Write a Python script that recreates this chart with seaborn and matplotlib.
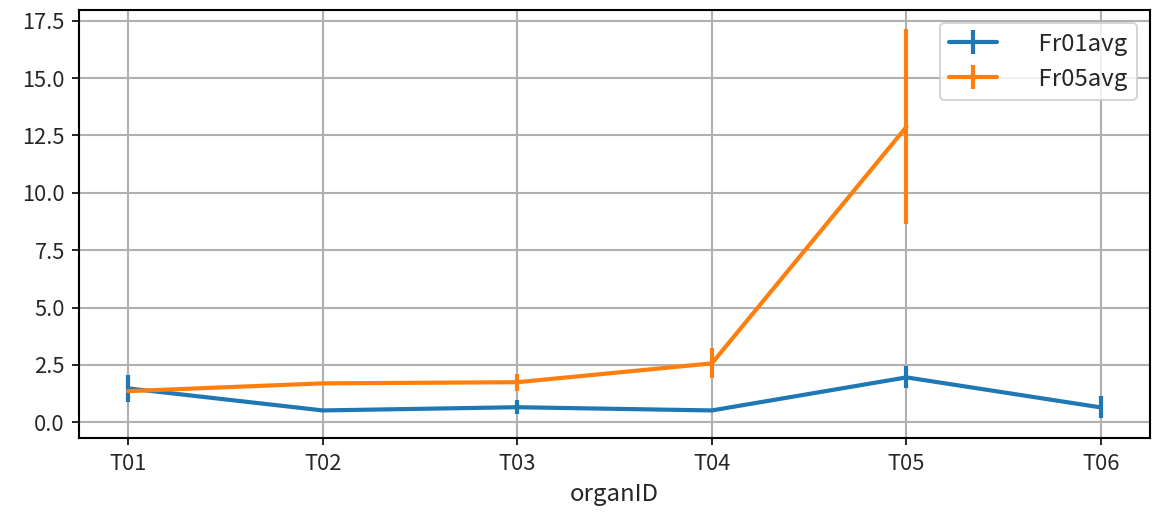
import matplotlib
matplotlib.use("Agg")
import matplotlib.pyplot as plt
import numpy as np
import pandas as pd
import seaborn as sns
from matplotlib.container import ErrorbarContainer

# data
organs = ["T01", "T02", "T03", "T04", "T05", "T06"]
fr01_avg = [1.48, 0.52, 0.66, 0.52, 1.96, 0.65]
fr01_err = [0.60, 0.05, 0.30, 0.03, 0.48, 0.48]
fr05_avg = [1.36, 1.70, 1.75, 2.57, 12.88, np.nan]
fr05_err = [0.05, 0.08, 0.37, 0.65, 4.25, np.nan]

series = {
    "Fr01avg": (fr01_avg, fr01_err),
    "Fr05avg": (fr05_avg, fr05_err),
}

sns.set_style("white")
plt.rcParams["font.family"] = ["Noto Sans CJK SC", "DejaVu Sans"]
plt.rcParams["font.size"] = 10.5
plt.rcParams["axes.unicode_minus"] = False

fig, ax = plt.subplots(figsize=(7.68, 3.4267), dpi=150)
fig.subplots_adjust(left=0.069, right=0.998, top=0.981, bottom=0.148)

x = np.arange(len(organs))
colors = sns.color_palette("tab10", 2)
handles = []
for (name, (avg, err)), color in zip(series.items(), colors):
    df = pd.DataFrame({"x": x, "y": avg})
    sns.lineplot(data=df, x="x", y="y", color=color, linewidth=2, ax=ax)
    line = ax.get_lines()[-1]
    eb = ax.errorbar(x, avg, yerr=err, fmt="none", ecolor=color, elinewidth=2)
    handles.append(ErrorbarContainer((line, (), eb.lines[2]), has_xerr=False, has_yerr=True, label=name))

ax.set_xticks(x)
ax.set_xticklabels(organs)
ax.set_xlabel("organID", fontsize=11.5)
ax.set_ylabel("")
ax.grid(True, color="#b0b0b0", linewidth=1.0)
for s in ax.spines.values():
    s.set_color("black")
    s.set_linewidth(1.0)
ax.tick_params(axis="both", which="both", length=3.5, width=0.8, color="black", bottom=True, left=True)

ax.legend(handles=handles, labels=["    Fr01avg", "    Fr05avg"], loc="upper right",
          fontsize=11.5, borderaxespad=0.55)

fig.savefig("out.png", dpi=150)
